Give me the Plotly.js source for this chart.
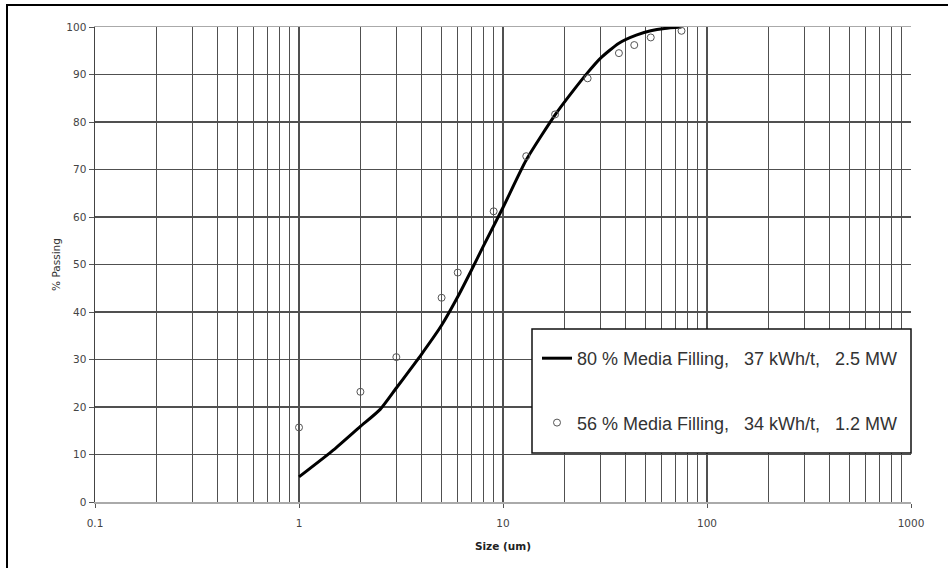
<!DOCTYPE html>
<html>
<head>
<meta charset="utf-8">
<script src="https://cdn.plot.ly/plotly-3.0.1.min.js"></script>
<style>html,body{margin:0;padding:0;background:#fff;}#chart{width:948px;height:568px;}</style>
</head>
<body>
<div id="chart"></div>
<script>
// Data
var curveSize    = [1, 1.5, 2, 2.5, 3, 4, 5, 6, 7, 8, 10, 13, 18, 22, 26, 30, 37, 45, 53, 62, 75];
var curvePassing = [5.3, 11.2, 15.9, 19.5, 24, 31.2, 37.2, 43.2, 48.8, 53.8, 62, 72, 81.5, 86.5, 90.4, 93.4, 96.6, 98.3, 99.2, 99.7, 100];

var pointSize    = [1, 2, 3, 5, 6, 9, 13, 18, 26, 37, 44, 53, 75];
var pointPassing = [15.7, 23.2, 30.5, 43, 48.3, 61.2, 72.8, 81.6, 89.2, 94.5, 96.2, 97.8, 99.2];

var curveName = "80 % Media Filling,\u00a0\u00a0\u00a037 kWh/t,\u00a0\u00a0\u00a02.5 MW";
var pointName = "56 % Media Filling,\u00a0\u00a0\u00a034 kWh/t,\u00a0\u00a0\u00a01.2 MW";

var xTickVals = [0.1, 1, 10, 100, 1000];
var xTickText = ["0.1", "1", "10", "100", "1000"];
var yTickVals = [0, 10, 20, 30, 40, 50, 60, 70, 80, 90, 100];

// minor gridlines 2..9 in each decade
var minorVals = [];
for (var d = -1; d < 3; d++) {
  for (var m = 2; m <= 9; m++) minorVals.push(m * Math.pow(10, d));
}

var W = 948, H = 568, L = 95, R = 37, T = 27, B = 66;
var pw = W - L - R, ph = H - T - B;
function px2x(px) { return (px - L) / pw; }
function px2y(py) { return (H - B - py) / ph; }

var traces = [
  {
    x: curveSize, y: curvePassing, type: 'scatter', mode: 'lines',
    name: curveName, legendgroup: 'a',
    line: {color: '#000', width: 3, shape: 'spline', smoothing: 0.6},
    hoverinfo: 'x+y'
  },
  {
    x: pointSize, y: pointPassing, type: 'scatter', mode: 'markers',
    name: pointName, legendgroup: 'b',
    marker: {symbol: 'circle-open', size: 7, color: '#555', line: {width: 1, color: '#555'}},
    hoverinfo: 'x+y'
  }
];

var gridCol = '#505050';
var tickFont = {family: 'DejaVu Sans, Verdana, sans-serif', size: 10.5, color: '#444'};
var layout = {
  width: W, height: H,
  margin: {l: L, r: R, t: T, b: B, pad: 0},
  paper_bgcolor: '#fff', plot_bgcolor: '#fff',
  showlegend: true,
  font: {family: 'DejaVu Sans, Verdana, sans-serif', size: 10, color: '#333'},
  xaxis: {
    type: 'log', range: [-1, 3],
    tickmode: 'array', tickvals: xTickVals, ticktext: xTickText,
    ticks: 'outside', ticklen: 4, tickcolor: '#555', tickwidth: 1,
    ticklabelstandoff: 7,
    showgrid: true, gridcolor: gridCol, gridwidth: 1.3,
    minor: {tickmode: 'array', tickvals: minorVals, showgrid: true, gridcolor: gridCol, gridwidth: 1.3, ticklen: 0},
    showline: true, linecolor: '#aaa', linewidth: 1.5, mirror: true,
    zeroline: false,
    tickfont: tickFont,
    title: {text: 'Size (um)', font: {family: 'DejaVu Sans, Verdana, sans-serif', size: 10.5, color: '#222', weight: 'bold'}, standoff: 14}
  },
  yaxis: {
    range: [0, 100],
    tickmode: 'array', tickvals: yTickVals,
    ticks: 'outside', ticklen: 5, tickcolor: '#555', tickwidth: 1,
    showgrid: true, gridcolor: gridCol, gridwidth: 1.3,
    showline: true, linecolor: '#444', linewidth: 1.5,
    zeroline: false,
    tickfont: tickFont,
    title: {text: '% Passing', font: {family: 'DejaVu Sans, Verdana, sans-serif', size: 10.5, color: '#333'}, standoff: 3}
  },
  legend: {
    x: px2x(537), xanchor: 'left',
    y: px2y(340), yanchor: 'top',
    bgcolor: 'rgba(0,0,0,0)', borderwidth: 0,
    traceorder: 'grouped', tracegroupgap: 38,
    font: {family: 'Liberation Sans, Arial, sans-serif', size: 18, color: '#333'}
  },
  shapes: [
    // legend box
    {type: 'rect', xref: 'paper', yref: 'paper', layer: 'above',
     x0: px2x(532), x1: px2x(911), y0: px2y(453), y1: px2y(329),
     fillcolor: '#fff', line: {color: '#111', width: 1.5}},
    // outer frame
    {type: 'rect', xref: 'paper', yref: 'paper', layer: 'above',
     x0: px2x(7), x1: px2x(960), y0: px2y(590), y1: px2y(5),
     fillcolor: 'rgba(0,0,0,0)', line: {color: '#000', width: 2}}
  ]
};

Plotly.newPlot('chart', traces, layout, {displayModeBar: false, staticPlot: true});
</script>
</body>
</html>
